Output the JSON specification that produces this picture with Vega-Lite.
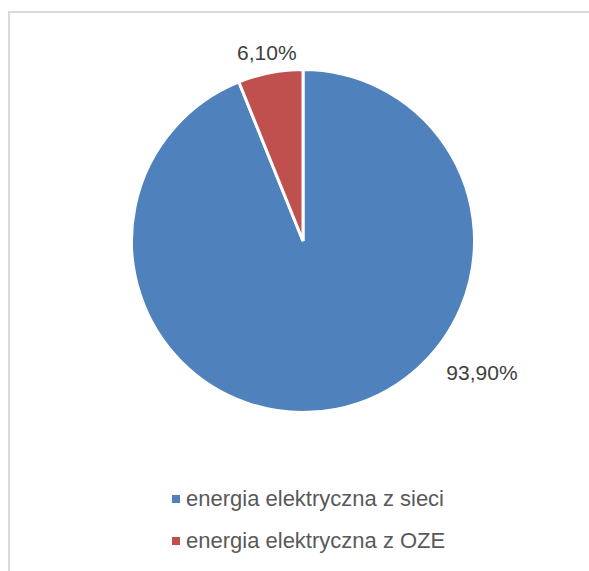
{
  "$schema": "https://vega.github.io/schema/vega-lite/v6.json",
  "width": 588,
  "height": 600,
  "padding": {"left": 9, "top": 12, "right": 0, "bottom": 0},
  "autosize": {"type": "none"},
  "background": "white",
  "view": {"stroke": "#d9d9d9", "strokeWidth": 2, "fill": "white"},
  "config": {
    "view": {"stroke": "#d9d9d9", "strokeWidth": 2},
    "font": "Liberation Sans",
    "locale": {"number": {"decimal": ",", "thousands": " ", "grouping": [3], "currency": ["", " zł"]}}
  },
  "data": {
    "values": [
      {"category": "energia elektryczna z sieci", "value": 0.939},
      {"category": "energia elektryczna z OZE", "value": 0.061}
    ]
  },
  "encoding": {
    "theta": {"field": "value", "type": "quantitative", "stack": true},
    "order": {"field": "value", "sort": "descending"},
    "color": {
      "field": "category",
      "type": "nominal",
      "scale": {
        "domain": ["energia elektryczna z sieci", "energia elektryczna z OZE"],
        "range": ["#4f81bd", "#c0504d"]
      },
      "legend": {
        "title": null,
        "orient": "none",
        "legendX": 156,
        "legendY": 476,
        "padding": 0,
        "symbolType": "square",
        "symbolSize": 64,
        "symbolStrokeWidth": 0,
        "labelFontSize": 22,
        "labelColor": "#595959",
        "labelFont": "Liberation Sans",
        "labelOffset": -1,
        "rowPadding": 20,
        "labelLimit": 400
      }
    }
  },
  "layer": [
    {
      "mark": {"type": "arc", "radius": 171.5, "stroke": "white", "strokeWidth": 3, "x": {"expr": "width/2"}, "y": {"expr": "229"}}
    },
    {
      "mark": {"type": "text", "radius": 190, "fontSize": 21, "align": "center", "baseline": "middle", "x": {"expr": "width/2"}, "y": {"expr": "229"}},
      "encoding": {
        "text": {"condition": {"test": "datum.value < 0.5", "field": "value", "format": ".2%"}, "value": ""},
        "color": {"value": "#404040"}
      }
    },
    {
      "mark": {"type": "text", "radius": 223, "thetaOffset": -0.74, "fontSize": 21, "align": "center", "baseline": "middle", "x": {"expr": "width/2"}, "y": {"expr": "229"}},
      "encoding": {
        "text": {"condition": {"test": "datum.value > 0.5", "field": "value", "format": ".2%"}, "value": ""},
        "color": {"value": "#404040"}
      }
    }
  ]
}
